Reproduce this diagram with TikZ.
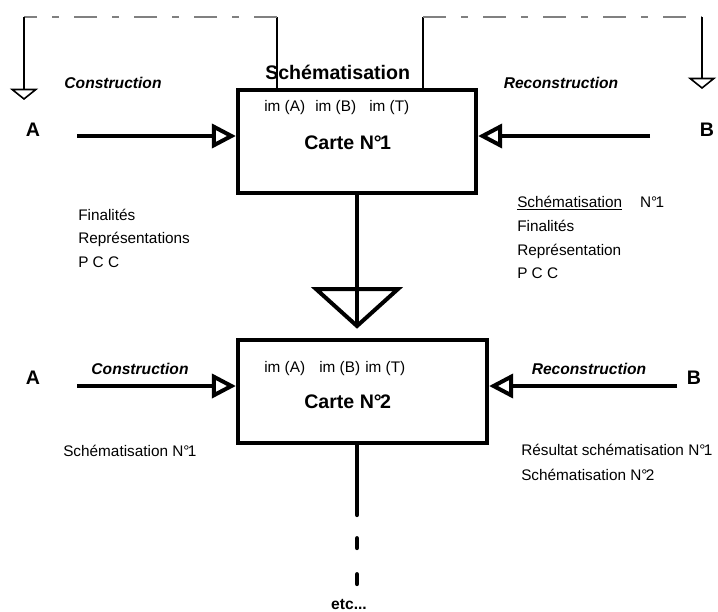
\documentclass[tikz,border=0pt]{standalone}
\usepackage{fontspec}
\setmainfont{Liberation Sans}
\usepackage{tikz}
\usetikzlibrary{arrows.meta}
\usetikzlibrary{positioning}
\newcommand{\numcarte}[1]{N°\kern-1.2pt#1}

\begin{document}
\begin{tikzpicture}[x=0.75pt, y=-0.75pt,
    carte/.style={draw, line width=3.2pt, minimum height=77.25pt, inner sep=0pt},
    fleche/.style={line width=3pt, -{Triangle[open, length=18pt, width=18pt]}},
    renvoi/.style={line width=1.1pt, color=black!50, dash pattern=on 17.25pt off 11.25pt on 5.25pt off 11.25pt},
    montant/.style={line width=1.2pt},
    retour/.style={line width=1.2pt, -{Triangle[open, length=8.5pt, width=21pt]}},
    texte/.style={anchor=west, inner sep=0pt, font=\fontsize{11.5}{13}\selectfont},
    gras/.style={inner sep=0pt, font=\fontsize{14.7}{17}\selectfont\bfseries},
    etiq/.style={inner sep=0pt, font=\fontsize{11.7}{14}\selectfont\bfseries\itshape}]
    \useasboundingbox (0,0) rectangle (718,611);

    \node[carte, minimum width=178.5pt] (carte1) at (357,141.5) {};
    \node[carte, minimum width=186.75pt] (carte2) at (362.5,391.5) {};

    \node[gras, anchor=west] (schema) at (265,72) {Schématisation};
    \node[gras] (A1) at (33,130) {A};
    \node[gras] (B1) at (707,130) {B};
    \node[gras] (A2) at (33,378) {A};
    \node[gras] (B2) at (694,378) {B};
    \node[etiq] (cons1) at (113,83) {Construction};
    \node[etiq] (recons1) at (561,83) {Reconstruction};
    \node[etiq] (cons2) at (140,369) {Construction};
    \node[etiq] (recons2) at (589,369) {Reconstruction};

    \node[texte] (imA1) at (264,108) {im (A)};
    \node[texte] (imB1) at (315,108) {im (B)};
    \node[texte] (imT1) at (369,108) {im (T)};
    \node[gras, anchor=west] (titre1) at (304,143) {Carte \numcarte{1}};
    \node[texte] (imA2) at (264,369) {im (A)};
    \node[texte] (imB2) at (319,369) {im (B)};
    \node[texte] (imT2) at (365,369) {im (T)};
    \node[gras, anchor=west] (titre2) at (304,402) {Carte \numcarte{2}};

    \node[texte] (fin1) at (78,215) {Finalités};
    \node[texte] (rep1) at (78,239) {Représentations};
    \node[texte] (pcc1) at (78,262) {P C C};
    \node[texte] (sch1) at (517,203) {\underline{Schématisation}\hspace{13.5pt}\numcarte{1}};
    \node[texte] (fin2) at (517,226) {Finalités};
    \node[texte] (rep2) at (517,251) {Représentation};
    \node[texte] (pcc2) at (517,273) {P C C};
    \node[texte] (sch2) at (63,451) {Schématisation \numcarte{1}};
    \node[texte] (res2) at (521,450) {Résultat schématisation \numcarte{1}};
    \node[texte] (sch3) at (521,475) {Schématisation \numcarte{2}};
    \node[etiq, font=\fontsize{11.7}{14}\selectfont\bfseries] (etc) at (349,604) {etc...};

    \coordinate (depA1) at (77,136);
    \coordinate (depB1) at (650,136);
    \coordinate (depA2) at (77,386);
    \coordinate (depB2) at (677,386);
    \draw[fleche] (depA1) -- (depA1 -| carte1.west);
    \draw[fleche] (depB1) -- (depB1 -| carte1.east);
    \draw[fleche] (depA2) -- (depA2 -| carte2.west);
    \draw[fleche] (depB2) -- (depB2 -| carte2.east);

    \coordinate (g) at (277,17);
    \coordinate (gg) at (24,17);
    \coordinate (d) at (423,17);
    \coordinate (dd) at (702,17);
    \draw[montant] (g |- carte1.north) -- (g);
    \draw[renvoi] (g) -- (gg);
    \draw[retour] (gg) -- (24,100);
    \draw[montant] (d |- carte1.north) -- (d);
    \draw[renvoi] (d) -- (dd);
    \draw[retour] (dd) -- (702,89);

    \coordinate (pointe) at (357,326);
    \draw[line width=3pt] (carte1.south) -- (pointe);
    \draw[line width=3pt, line join=miter] (pointe) -- ++(-41,-37) -- ++(82,0) -- cycle;

    \coordinate (suite) at (357,588);
    \draw[line width=3pt, line cap=round, dash pattern=on 52.5pt off 17.25pt on 7.5pt off 19.5pt on 7.5pt off 60pt]
        (carte1.south |- carte2.south) -- (suite);
\end{tikzpicture}
\end{document}
